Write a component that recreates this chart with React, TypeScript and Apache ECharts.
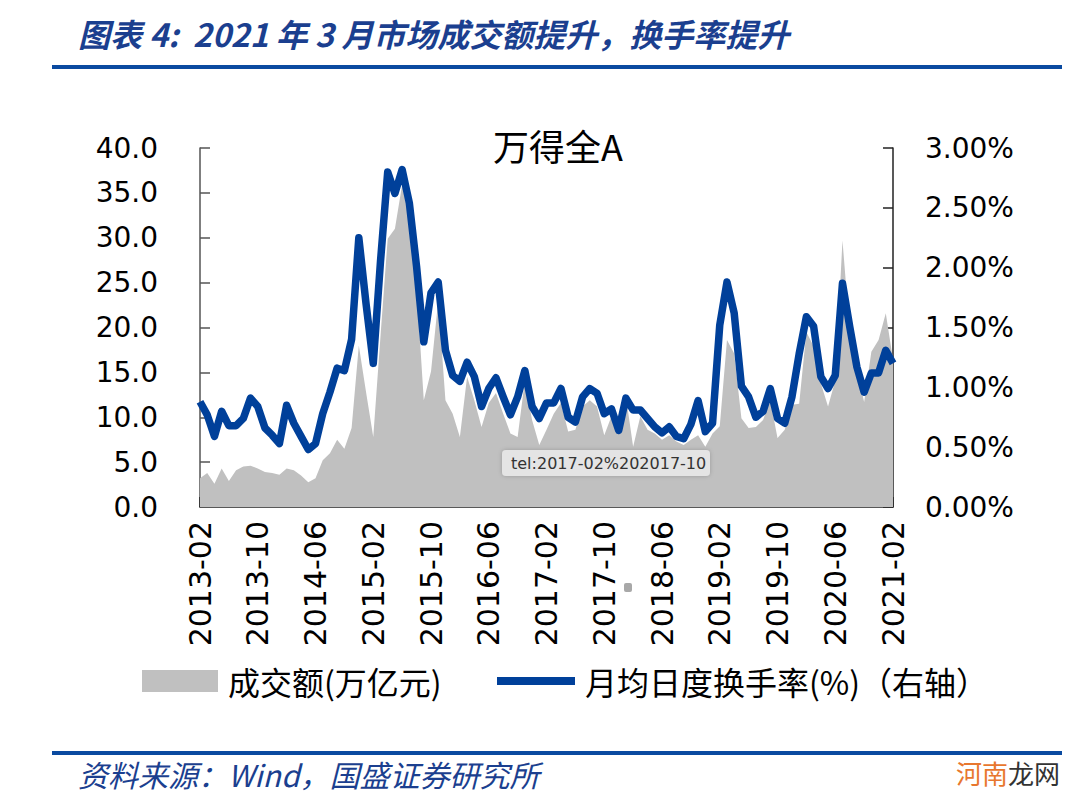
import React, { useEffect, useRef } from "react";
import * as echarts from "echarts";

// Monthly categories 2013-02 .. 2021-02
const startYear = 2013;
const startMonth = 2;
const monthCount = 97;
const categories: string[] = [];
for (let k = 0; k < monthCount; k++) {
  const m0 = startMonth - 1 + k;
  const y = startYear + Math.floor(m0 / 12);
  const m = (m0 % 12) + 1;
  categories.push(`${y}-${m < 10 ? "0" + m : m}`);
}

// 成交额 (万亿元), left axis
const turnoverAmount: number[] = [
  3.2, 3.8, 2.6, 4.3, 2.9, 4.1, 4.5, 4.6, 4.3, 3.9,
  3.8, 3.6, 4.3, 4.1, 3.5, 2.75, 3.2, 5.2, 6.0, 7.5,
  6.5, 8.8, 18.0, 12.8, 7.8, 19.0, 29.9, 31.0, 35.9, 32.3,
  24.5, 11.9, 15.1, 23.0, 11.9, 10.4, 7.8, 14.5, 11.9, 8.9,
  11.6, 12.7, 10.4, 8.2, 7.8, 14.1, 9.7, 6.9, 8.6, 10.4,
  11.6, 8.4, 8.6, 11.2, 11.9, 11.2, 8.0, 10.1, 8.5, 12.3,
  6.7, 10.1, 8.6, 8.2, 7.5, 8.0, 7.3, 6.9, 7.5, 8.0,
  6.7, 8.2, 9.0, 18.6, 17.1, 9.9, 8.8, 8.9, 9.7, 11.9,
  7.7, 8.6, 11.4, 11.5, 19.5, 17.9, 13.8, 11.2, 14.1, 29.7,
  19.7, 15.3, 11.7, 17.3, 18.6, 21.6, 16.4,
];

// 月均日度换手率 (%), right axis
const turnoverRate: number[] = [
  0.88, 0.77, 0.59, 0.80, 0.68, 0.68, 0.74, 0.91, 0.84, 0.66,
  0.60, 0.53, 0.85, 0.70, 0.59, 0.48, 0.53, 0.78, 0.96, 1.16,
  1.14, 1.40, 2.25, 1.70, 1.20, 2.05, 2.80, 2.62, 2.82, 2.54,
  2.01, 1.38, 1.79, 1.88, 1.31, 1.10, 1.05, 1.21, 1.09, 0.84,
  0.99, 1.08, 0.92, 0.77, 0.92, 1.14, 0.84, 0.74, 0.87, 0.87,
  0.99, 0.75, 0.71, 0.92, 0.99, 0.95, 0.78, 0.82, 0.64, 0.91,
  0.81, 0.81, 0.74, 0.67, 0.62, 0.67, 0.59, 0.57, 0.69, 0.89,
  0.63, 0.70, 1.52, 1.88, 1.62, 1.01, 0.92, 0.75, 0.80, 0.99,
  0.74, 0.70, 0.92, 1.28, 1.59, 1.51, 1.09, 0.99, 1.10, 1.87,
  1.51, 1.17, 0.96, 1.12, 1.12, 1.31, 1.20,
];

const titleText = "图表 4:  2021 年 3 月市场成交额提升，换手率提升";
const chartTitle = "万得全A";
const legendArea = "成交额(万亿元)";
const legendLine = "月均日度换手率(%)（右轴）";
const sourceText = "资料来源：Wind，国盛证券研究所";

const BLUE = "#00409a";
const GRAY = "#c0c0c0";
const NUM_FONT = "DejaVu Sans";
const CJK_FONT = "Noto Sans CJK SC";

export default function App() {
  const ref = useRef<HTMLDivElement>(null);
  useEffect(() => {
    if (!ref.current) return;
    const chart = echarts.init(ref.current, null, { renderer: "svg" });
    chart.setOption({
      animation: false,
      backgroundColor: "#ffffff",
      grid: { left: 200, right: 187, top: 148, bottom: 292, containLabel: false },
      xAxis: {
        type: "category",
        data: categories,
        boundaryGap: false,
        axisLine: { lineStyle: { color: "#222", width: 1.5 } },
        axisTick: { inside: true, length: 10, interval: 7, lineStyle: { color: "#222", width: 1.5 } },
        axisLabel: {
          interval: 7,
          rotate: 90,
          margin: 14,
          color: "#000",
          fontFamily: NUM_FONT,
          fontSize: 30,
        },
        splitLine: { show: false },
      },
      yAxis: [
        {
          type: "value",
          min: 0,
          max: 40,
          interval: 5,
          axisLine: { show: true, lineStyle: { color: "#555", width: 1.5 } },
          axisTick: { show: true, inside: true, length: 10, lineStyle: { color: "#555", width: 1.5 } },
          axisLabel: {
            margin: 42,
            color: "#000",
            fontFamily: NUM_FONT,
            fontSize: 28,
            formatter: (v: number) => v.toFixed(1),
          },
          splitLine: { show: false },
        },
        {
          type: "value",
          min: 0,
          max: 3,
          interval: 0.5,
          position: "right",
          axisLine: { show: true, lineStyle: { color: "#222", width: 1.5 } },
          axisTick: { show: true, inside: true, length: 10, lineStyle: { color: "#222", width: 1.5 } },
          axisLabel: {
            margin: 32,
            color: "#000",
            fontFamily: NUM_FONT,
            fontSize: 28,
            formatter: (v: number) => v.toFixed(2) + "%",
          },
          splitLine: { show: false },
        },
      ],
      series: [
        {
          name: legendArea,
          type: "line",
          yAxisIndex: 0,
          data: turnoverAmount,
          symbol: "none",
          lineStyle: { width: 0, color: GRAY },
          itemStyle: { color: GRAY },
          areaStyle: { color: GRAY, opacity: 1 },
          z: 1,
        },
        {
          name: legendLine,
          type: "line",
          yAxisIndex: 1,
          data: turnoverRate,
          symbol: "none",
          lineStyle: { width: 7.5, color: BLUE, join: "round" },
          itemStyle: { color: BLUE },
          z: 3,
        },
      ],
      graphic: [
        {
          type: "text",
          x: 78,
          y: 33,
          style: {
            text: titleText,
            fill: "#1b3f8f",
            font: `italic bold 32px "${CJK_FONT}"`,
            verticalAlign: "middle",
          },
        },
        { type: "rect", shape: { x: 52, y: 65, width: 1010, height: 4 }, style: { fill: "#0a4aa0" } },
        {
          type: "text",
          x: 558,
          y: 145,
          style: {
            text: chartTitle,
            fill: "#000",
            font: `36px "${CJK_FONT}"`,
            align: "center",
            verticalAlign: "middle",
          },
        },
        // tooltip-like overlay
        {
          type: "rect",
          shape: { x: 502, y: 450, width: 208, height: 26, r: 4 },
          style: { fill: "#e4e4e4", shadowBlur: 4, shadowColor: "rgba(0,0,0,0.2)" },
          z: 10,
        },
        {
          type: "text",
          x: 511,
          y: 463,
          style: {
            text: "tel:2017-02%202017-10",
            fill: "#333",
            font: `16px "${NUM_FONT}"`,
            verticalAlign: "middle",
          },
          z: 11,
        },
        {
          type: "rect",
          shape: { x: 624, y: 583, width: 8, height: 9, r: 2 },
          style: { fill: "#a8a8a8" },
        },
        // legend
        { type: "rect", shape: { x: 142, y: 670, width: 76, height: 22 }, style: { fill: GRAY } },
        {
          type: "text",
          x: 228,
          y: 681,
          style: { text: legendArea, fill: "#000", font: `32px "${CJK_FONT}"`, verticalAlign: "middle" },
        },
        { type: "rect", shape: { x: 497, y: 677, width: 78, height: 8 }, style: { fill: BLUE } },
        {
          type: "text",
          x: 585,
          y: 681,
          style: { text: legendLine, fill: "#000", font: `32px "${CJK_FONT}"`, verticalAlign: "middle" },
        },
        // footer
        { type: "rect", shape: { x: 52, y: 751, width: 1010, height: 4 }, style: { fill: "#0a4aa0" } },
        {
          type: "text",
          x: 78,
          y: 774,
          style: {
            text: sourceText,
            fill: "#1b3f8f",
            font: `italic 30px "${CJK_FONT}"`,
            verticalAlign: "middle",
          },
        },
        {
          type: "text",
          x: 956,
          y: 772,
          style: { text: "河南", fill: "#e8772e", font: `26px "${CJK_FONT}"`, verticalAlign: "middle" },
        },
        {
          type: "text",
          x: 1008,
          y: 772,
          style: { text: "龙网", fill: "#333", font: `26px "${CJK_FONT}"`, verticalAlign: "middle" },
        },
      ],
    });
    return () => chart.dispose();
  }, []);
  return <div ref={ref} style={{ width: 1080, height: 799, position: "absolute", left: 0, top: 0 }} />;
}
